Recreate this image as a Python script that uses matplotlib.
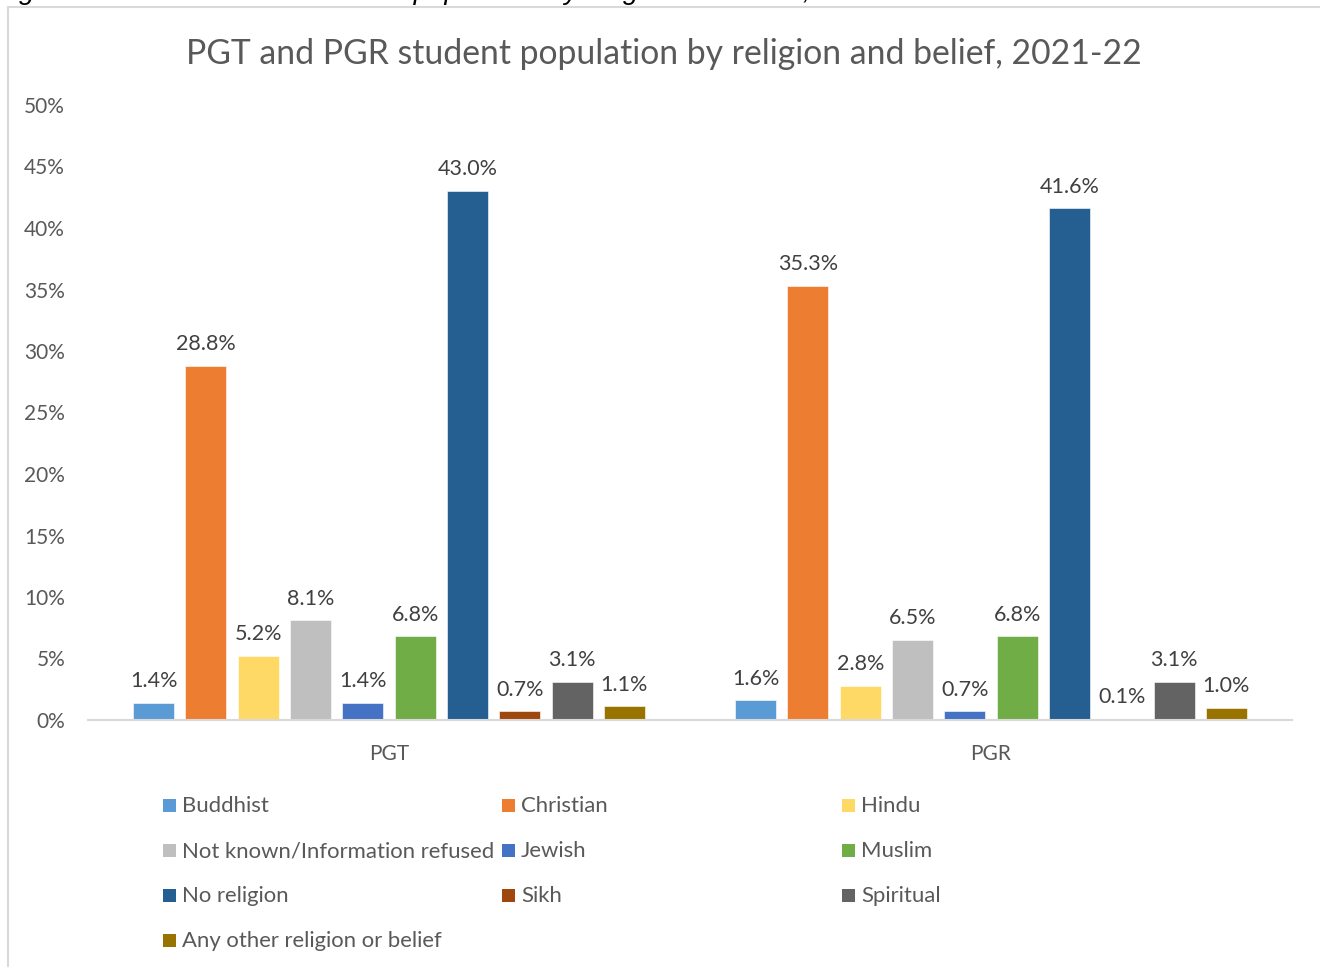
import numpy as np
import matplotlib
matplotlib.use("Agg")
import matplotlib.pyplot as plt
from matplotlib.patches import Rectangle
from matplotlib.ticker import PercentFormatter

plt.rcParams['font.family'] = ['Lato', 'DejaVu Sans']

groups = ['PGT', 'PGR']
religions = ['Buddhist', 'Christian', 'Hindu', 'Not known/Information refused',
             'Jewish', 'Muslim', 'No religion', 'Sikh', 'Spiritual',
             'Any other religion or belief']
pgt = [1.4, 28.8, 5.2, 8.1, 1.4, 6.8, 43.0, 0.7, 3.1, 1.1]
pgr = [1.6, 35.3, 2.8, 6.5, 0.7, 6.8, 41.6, 0.1, 3.1, 1.0]
colors = ['#5B9BD5', '#ED7D31', '#FFD966', '#BFBFBF', '#4472C4',
          '#70AD47', '#255E91', '#9E480E', '#636363', '#997300']

values = np.array([pgt, pgr]) / 100.0

W, H = 1320, 967
fig = plt.figure(figsize=(W / 100, H / 100), dpi=100)
ax = fig.add_axes([88 / W, 1 - 720 / H, (1292 - 88) / W, (720 - 105) / H])

step = 0.0869
width = 0.068
xg = np.arange(len(groups))
for i, name in enumerate(religions):
    xs = xg + (i - 4.5) * step
    bars = ax.bar(xs, values[:, i], width=width, color=colors[i],
                  edgecolor='white', linewidth=0.4, label=name, zorder=2)
    for b, v in zip(bars, values[:, i]):
        ax.annotate(f'{v * 100:.1f}%', (b.get_x() + b.get_width() / 2, v),
                    xytext=(0, 8.5), textcoords='offset points',
                    ha='center', va='bottom', fontsize=15.5, color='#404040')

ax.set_xlim(-0.5, 1.5)
ax.set_ylim(0, 0.5)
ax.set_yticks(np.arange(0, 0.51, 0.05))
ax.yaxis.set_major_formatter(PercentFormatter(1.0, decimals=0))
ax.set_xticks(xg)
ax.set_xticklabels(groups)
ax.tick_params(axis='y', length=0, labelsize=15, labelcolor='#595959', pad=16.5)
ax.tick_params(axis='x', length=0, labelsize=15, labelcolor='#595959', pad=17)
for s in ['top', 'right', 'left']:
    ax.spines[s].set_visible(False)
ax.spines['bottom'].set_color('#D9D9D9')
ax.spines['bottom'].set_linewidth(1.5)

fig.text(664 / W, 1 - 54 / H, 'PGT and PGR student population by religion and belief, 2021-22',
         ha='center', va='center', fontsize=24.3, color='#595959')

# legend laid out row by row like the original
col_x = [163, 502, 842]
for i, name in enumerate(religions):
    r, c = divmod(i, 3)
    x0 = col_x[c]
    yc = 805 + 45 * r
    fig.patches.append(Rectangle((x0 / W, 1 - (yc + 6.5) / H), 13 / W, 13 / H,
                                 transform=fig.transFigure, facecolor=colors[i],
                                 edgecolor='none'))
    fig.text((x0 + 19) / W, 1 - (yc + 1) / H, name, ha='left', va='center',
             fontsize=15.9, color='#595959')

# chart frame and cut-off caption above it
fig.patches.append(Rectangle((8 / W, -0.1), 1.2, 1 - 7 / H + 0.1,
                             transform=fig.transFigure, facecolor='none',
                             edgecolor='#D9D9D9', linewidth=1.5))
fig.text(-4 / W, 1 + 1 / H, 'Figure 14: PGT and PGR student population by religion and belief, 2021-22',
         ha='left', va='baseline', fontsize=20, style='italic', color='black',
         family=['Liberation Sans', 'DejaVu Sans'])

fig.savefig('out.png', dpi=100)
